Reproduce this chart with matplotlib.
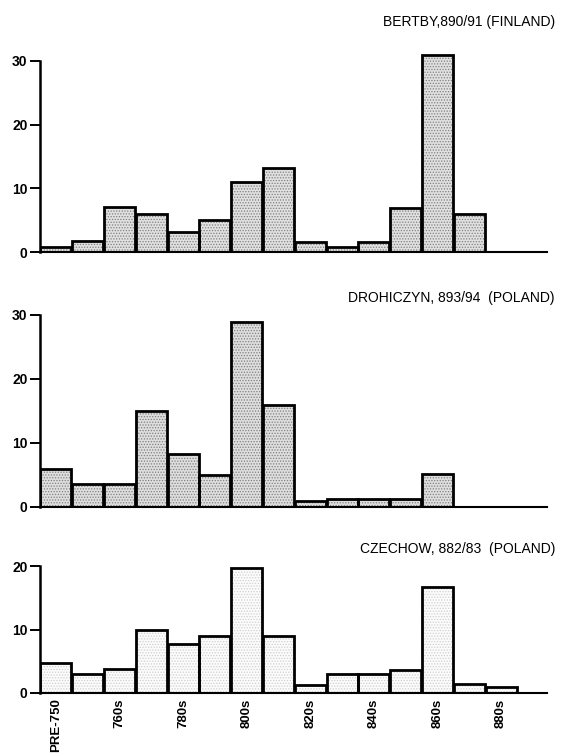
import matplotlib
matplotlib.use("Agg")
import matplotlib.pyplot as plt

categories = ["PRE-750", "750s", "760s", "770s", "780s", "790s", "800s", "810s",
              "820s", "830s", "840s", "850s", "860s", "870s", "880s"]
shown_labels = ["PRE-750", "760s", "780s", "800s", "820s", "840s", "860s", "880s"]

bertby = [0.8, 1.7, 7.0, 6.0, 3.2, 5.0, 11.0, 13.2, 1.5, 0.8, 1.5, 6.9, 30.9, 5.9]
drohiczyn = [6.0, 3.6, 3.6, 15.0, 8.3, 5.0, 28.9, 16.0, 1.0, 1.3, 1.3, 1.3, 5.1]
czechow = [4.7, 3.0, 3.8, 9.9, 7.7, 9.0, 19.7, 9.0, 1.3, 3.0, 3.0, 3.7, 16.7, 1.4, 0.9]

titles = ["BERTBY,890/91 (FINLAND)", "DROHICZYN, 893/94  (POLAND)", "CZECHOW, 882/83  (POLAND)"]
series = [bertby, drohiczyn, czechow]
yticks = [[0, 10, 20, 30], [0, 10, 20, 30], [0, 10, 20]]
ytops = [32, 32, 21]
fills = ["#e0e0e0", "#dedede", "#fbfbfb"]
dots = ["#808080", "#808080", "#d0d0d0"]

W, H = 563, 756
fig = plt.figure(figsize=(W / 100, H / 100), dpi=100)
plt.rcParams['hatch.linewidth'] = 0.6

tick_font = dict(family=["Liberation Sans Narrow", "Liberation Sans", "DejaVu Sans"],
                 weight="bold", size=10)
xtick_font = dict(tick_font, size=9.5)

# axes rectangles in pixel terms: (zero line y, px per unit)
geom = [(252, 6.37), (507, 6.40), (693, 6.35)]
left_px, right_px = 40, 547
bar_px = 31.8

for i, (vals, title, yt, ytop, fc, dc, (y0, ppu)) in enumerate(
        zip(series, titles, yticks, ytops, fills, dots, geom)):
    height_px = ytop * ppu
    ax = fig.add_axes([left_px / W, (H - y0) / H, (right_px - left_px) / W, height_px / H])
    xs = list(range(len(vals)))
    ax.bar(xs, vals, width=1.0, color=fc, edgecolor=dc, hatch="......", linewidth=0, zorder=2)
    ax.bar(xs, vals, width=0.97, facecolor="none", edgecolor="black", linewidth=2.0, zorder=3)
    ax.set_xlim(-0.5, -0.5 + (right_px - left_px) / bar_px)
    ax.set_ylim(0, ytop)
    for s in ["top", "right"]:
        ax.spines[s].set_visible(False)
    ax.spines["left"].set_bounds(0, yt[-1])
    ax.spines["left"].set_linewidth(1.8)
    ax.spines["bottom"].set_linewidth(1.5)
    ax.set_yticks(yt)
    ax.set_yticklabels([str(v) for v in yt], fontdict=tick_font)
    ax.tick_params(axis="y", length=7, width=1.4, pad=2)
    if i < 2:
        ax.set_xticks([])
    else:
        pos = [categories.index(c) for c in shown_labels]
        ax.set_xticks(pos)
        ax.set_xticklabels(shown_labels, rotation=90, va="top", ha="center", fontdict=xtick_font)
        ax.tick_params(axis="x", length=0, pad=4)
    ax.patch.set_alpha(0)

title_y = [26, 302, 553]
for t, ty in zip(titles, title_y):
    fig.text(555 / W, (H - ty) / H, t, ha="right", va="baseline",
             fontsize=10, family=["Liberation Sans", "DejaVu Sans"])

fig.savefig("out.png", dpi=100)
